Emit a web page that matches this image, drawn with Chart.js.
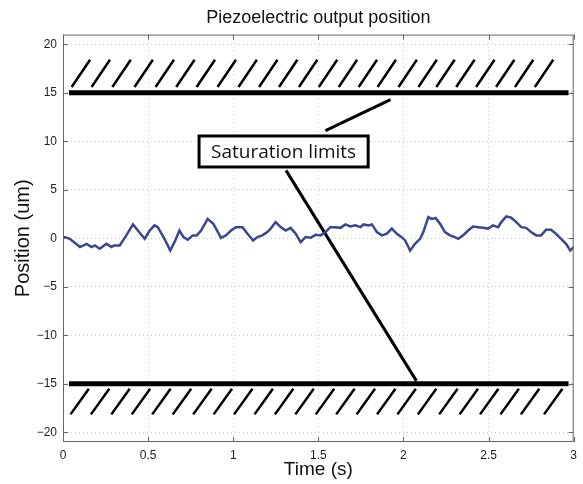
<!DOCTYPE html>
<html>
<head>
<meta charset="utf-8">
<script src="https://cdn.jsdelivr.net/npm/chart.js@4"></script>
<style>
  html, body { margin: 0; padding: 0; background: #fff; }
  #wrap { width: 583px; height: 484px; }
</style>
</head>
<body>
<div id="wrap"><canvas id="piezoChart" width="583" height="484"></canvas></div>
<script>
// measured piezo output (time in s, position in um)
const timeS = [0, 0.012, 0.04, 0.1, 0.139, 0.168, 0.187, 0.216, 0.255, 0.285, 0.30, 0.333, 0.372, 0.411, 0.44, 0.48,
    0.509, 0.538, 0.557, 0.596, 0.63, 0.655, 0.684, 0.708, 0.733, 0.762, 0.786, 0.811, 0.85, 0.883, 0.899, 0.928,
    0.957, 0.987, 1.016, 1.054, 1.084, 1.117, 1.142, 1.171, 1.2, 1.22, 1.249, 1.279, 1.308, 1.337, 1.367, 1.396,
    1.425, 1.454, 1.484, 1.513, 1.542, 1.571, 1.6, 1.63, 1.659, 1.688, 1.717, 1.747, 1.766, 1.795, 1.815, 1.844,
    1.873, 1.902, 1.932, 1.961, 1.99, 2.01, 2.029, 2.039, 2.068, 2.098, 2.117, 2.146, 2.166, 2.189, 2.215, 2.244,
    2.273, 2.302, 2.322, 2.351, 2.38, 2.409, 2.439, 2.468, 2.497, 2.526, 2.556, 2.575, 2.604, 2.633, 2.663, 2.692,
    2.721, 2.75, 2.78, 2.809, 2.838, 2.867, 2.896, 2.926, 2.955, 2.98, 3.0];
const positionUm = [0.1, 0.1, -0.05, -0.9, -0.57, -0.9, -0.74, -1.08, -0.57, -0.9, -0.74, -0.74, 0.3, 1.43, 0.8, -0.05,
    0.8, 1.33, 1.15, -0.05, -1.26, -0.4, 0.8, 0.12, -0.15, 0.3, 0.3, 0.8, 2.0, 1.5, 1.0, 0.05,
    0.3, 0.8, 1.15, 1.15, 0.47, -0.22, 0.12, 0.3, 0.64, 1.0, 1.67, 1.15, 0.8, 1.08, 0.47, -0.4,
    0.12, 0.05, 0.36, 0.3, 0.64, 1.15, 1.15, 1.08, 1.43, 1.22, 1.33, 1.15, 1.43, 1.33, 1.43, 0.64,
    0.3, 0.47, 1.0, 0.47, 0.12, -0.22, -0.9, -1.26, -0.57, -0.05, 0.64, 2.19, 2.0, 2.1, 1.5, 0.64,
    0.3, 0.12, -0.05, 0.3, 0.8, 1.22, 1.15, 1.08, 1.0, 1.33, 1.15, 1.67, 2.26, 2.12, 1.67, 1.15,
    1.08, 0.64, 0.3, 0.3, 0.88, 0.88, 0.47, -0.05, -0.57, -1.26, -0.9];

// saturation limits and the hatching drawn next to them
const limitValues = [15, -15];
const limitSpan = [0.035, 2.97];
const hatchUpperStarts = [0.051, 0.168, 0.29, 0.42, 0.544, 0.665, 0.785, 0.908, 1.031, 1.152, 1.269, 1.386,
    1.503, 1.62, 1.737, 1.848, 1.971, 2.088, 2.193, 2.31, 2.427, 2.544, 2.655, 2.772];
const hatchLowerStarts = [0.044, 0.164, 0.284, 0.404, 0.524, 0.645, 0.765, 0.885, 1.005, 1.125, 1.245, 1.365,
    1.485, 1.605, 1.725, 1.845, 1.965, 2.085, 2.21, 2.33, 2.45, 2.57, 2.69, 2.826];
const hatchUpperY = [15.6, 18.4];
const hatchLowerY = [-18.15, -15.5];
const hatchDx = 0.108;

// annotation: label and its two pointer lines
const noteText = 'Saturation limits';
const noteCenter = { x: 1.296, y: 8.95 };
const pointerUpper = [{ x: 1.542, y: 11.1 }, { x: 1.924, y: 14.3 }];
const pointerLower = [{ x: 1.31, y: 7.0 }, { x: 2.076, y: -14.7 }];

const xTicks = [0, 0.5, 1, 1.5, 2, 2.5, 3];
const yTicks = [-20, -15, -10, -5, 0, 5, 10, 15, 20];

const fontFamily = '"Liberation Sans", Arial, Helvetica, sans-serif';

function hatchPoints(starts, ys) {
    let pts = [];
    starts.forEach(t => {
        pts.push({ x: t, y: ys[0] });
        pts.push({ x: t + hatchDx, y: ys[1] });
        pts.push({ x: t + hatchDx, y: null });
    });
    return pts;
}

const blackLine = (data, width) => ({
    data: data,
    borderColor: '#000',
    borderWidth: width,
    pointRadius: 0,
    showLine: true,
    spanGaps: false,
    borderCapStyle: 'butt',
});

// frame box, inward ticks and the text box
const framePlugin = {
    id: 'frame',
    afterDatasetsDraw(chart) {
        const { ctx, chartArea: a, scales } = chart;
        ctx.save();
        ctx.strokeStyle = '#666';
        ctx.lineWidth = 1;
        ctx.strokeRect(a.left + 0.5, a.top + 0.5, a.right - a.left - 1, a.bottom - a.top - 1);
        ctx.beginPath();
        xTicks.forEach(v => {
            const px = Math.round(scales.x.getPixelForValue(v)) + 0.5;
            ctx.moveTo(px, a.bottom); ctx.lineTo(px, a.bottom - 5);
            ctx.moveTo(px, a.top); ctx.lineTo(px, a.top + 5);
        });
        yTicks.forEach(v => {
            const py = Math.round(scales.y.getPixelForValue(v)) + 0.5;
            ctx.moveTo(a.left, py); ctx.lineTo(a.left + 5, py);
            ctx.moveTo(a.right, py); ctx.lineTo(a.right - 5, py);
        });
        ctx.stroke();

        // text box
        const cx = scales.x.getPixelForValue(noteCenter.x);
        const cy = scales.y.getPixelForValue(noteCenter.y);
        ctx.font = '19px "Open Sans", "Noto Sans", sans-serif';
        const w = ctx.measureText(noteText).width + 24;
        const h = 31;
        ctx.fillStyle = '#fff';
        ctx.fillRect(cx - w / 2, cy - h / 2, w, h);
        ctx.lineWidth = 3;
        ctx.strokeStyle = '#000';
        ctx.strokeRect(cx - w / 2, cy - h / 2, w, h);
        ctx.fillStyle = '#111';
        ctx.textAlign = 'center';
        ctx.textBaseline = 'middle';
        ctx.fillText(noteText, cx, cy + 1);
        ctx.restore();
    }
};

const ctx = document.getElementById('piezoChart').getContext('2d');
const piezoChart = new Chart(ctx, {
    type: 'scatter',
    data: {
        datasets: [
            {
                data: timeS.map((t, i) => ({ x: t, y: positionUm[i] })),
                borderColor: '#38478f',
                borderWidth: 2.5,
                pointRadius: 0,
                showLine: true,
                tension: 0,
            },
            blackLine(limitSpan.map(t => ({ x: t, y: limitValues[0] })), 5),
            blackLine(limitSpan.map(t => ({ x: t, y: limitValues[1] })), 5),
            blackLine(hatchPoints(hatchUpperStarts, hatchUpperY), 2.5),
            blackLine(hatchPoints(hatchLowerStarts, hatchLowerY), 2.5),
            blackLine(pointerUpper, 3),
            blackLine(pointerLower, 3),
        ]
    },
    options: {
        responsive: false,
        animation: false,
        layout: { padding: { left: 0, right: 5, top: 0, bottom: 0 } },
        plugins: {
            legend: { display: false },
            tooltip: { enabled: false },
            title: {
                display: true,
                fullSize: false,
                text: 'Piezoelectric output position',
                color: '#111',
                font: { family: fontFamily, size: 18, weight: 'normal' },
                padding: { top: 7, bottom: 6 }
            }
        },
        scales: {
            x: {
                type: 'linear',
                min: 0,
                max: 3,
                afterBuildTicks: scale => { scale.ticks = xTicks.map(v => ({ value: v })); },
                afterFit: scale => { scale.height = 42; },
                grid: { color: '#c8c8c8', drawTicks: false },
                border: { display: false, dash: [1, 3] },
                ticks: {
                    padding: 6,
                    color: '#222',
                    maxRotation: 0,
                    font: { family: fontFamily, size: 12 },
                    callback: v => String(v)
                },
                title: {
                    display: true,
                    text: 'Time (s)',
                    color: '#111',
                    font: { family: fontFamily, size: 19 },
                    padding: { top: 0, bottom: 3 }
                }
            },
            y: {
                type: 'linear',
                min: -21,
                max: 21,
                afterBuildTicks: scale => { scale.ticks = yTicks.map(v => ({ value: v })); },
                afterFit: scale => { scale.width = 63; },
                grid: { color: '#c8c8c8', drawTicks: false },
                border: { display: false, dash: [1, 3] },
                ticks: {
                    padding: 6,
                    color: '#222',
                    font: { family: fontFamily, size: 12 },
                    callback: v => String(v).replace('-', '\u2212')
                },
                title: {
                    display: true,
                    text: 'Position (um)',
                    color: '#111',
                    font: { family: fontFamily, size: 20 },
                    padding: { top: 11, bottom: 0 }
                }
            }
        }
    },
    plugins: [framePlugin]
});
</script>
</body>
</html>
